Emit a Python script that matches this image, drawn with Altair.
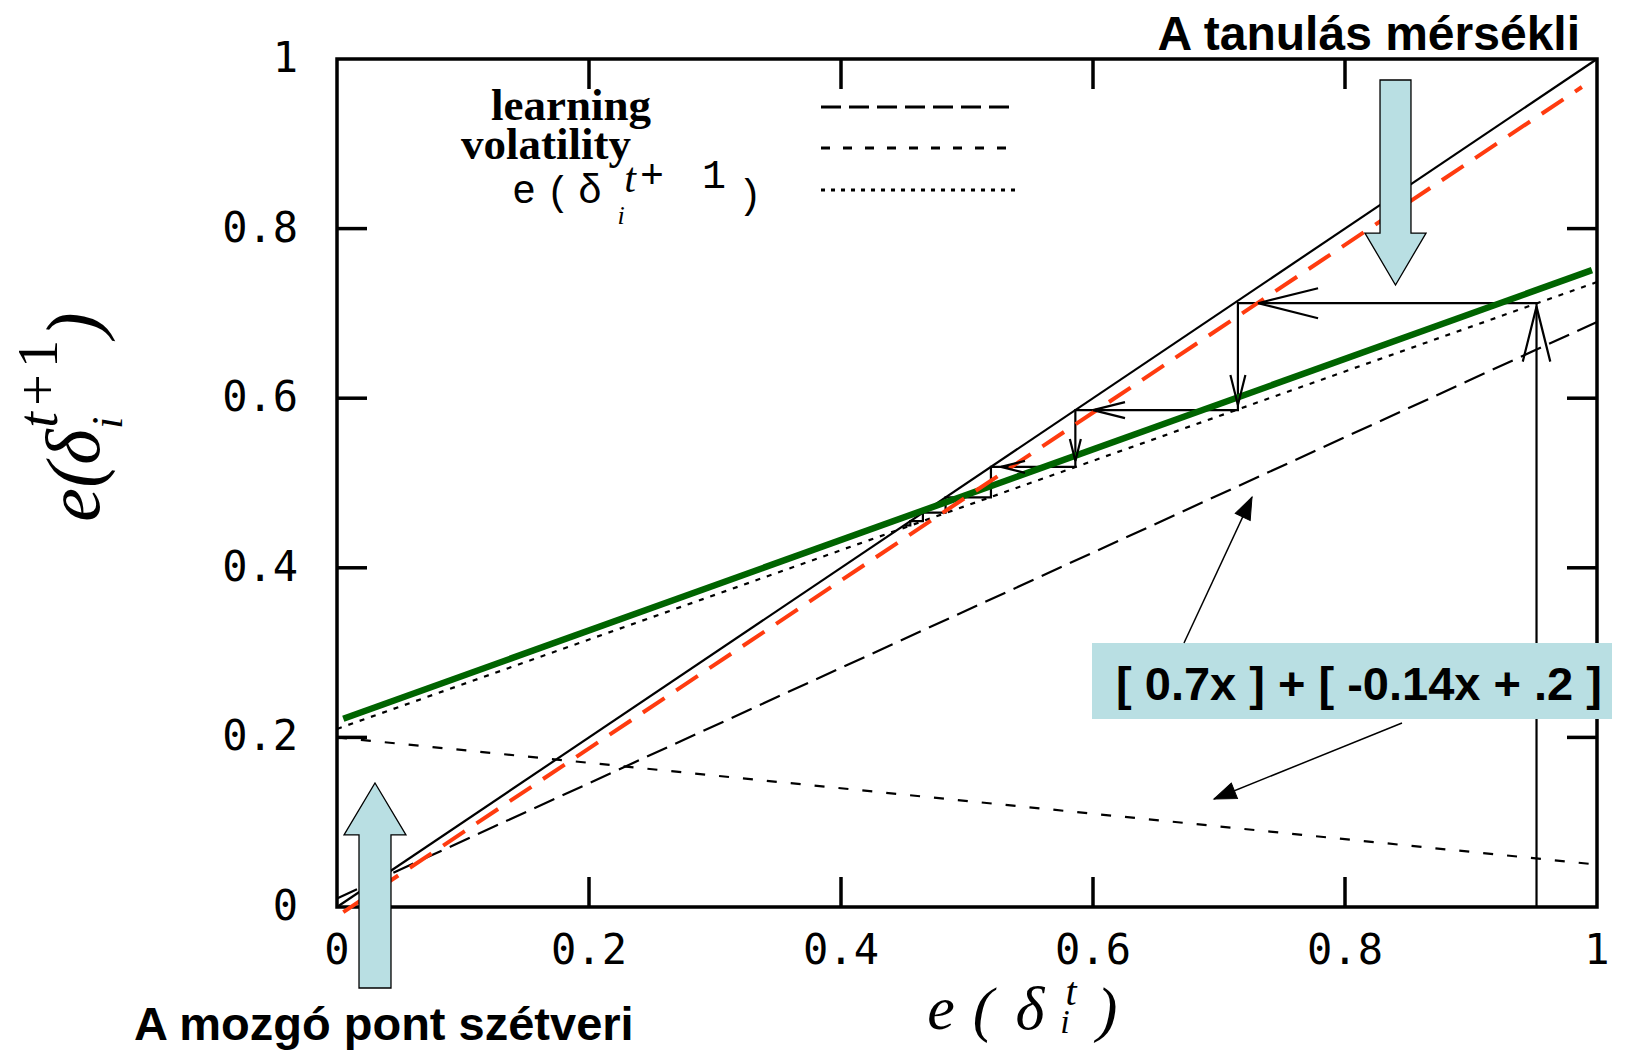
import math
import altair as alt
import pandas as pd

# ---------------- data ----------------
tick_values = [0, 0.2, 0.4, 0.6, 0.8, 1]
tick_labels = ["0", "0.2", "0.4", "0.6", "0.8", "1"]
inner_ticks = [0.2, 0.4, 0.6, 0.8]

line_x = [0.0, 1.0]
diag_y = [0.0, 1.0]
learning_y = [0.01, 0.69]
volatility_y = [0.20, 0.05]
sum_y = [0.21, 0.737]
green_x = [0.005, 0.996]
green_y = [0.222, 0.751]
red_x = [0.005, 0.988]
red_y = [-0.006, 0.967]

cob_x = [0.952, 0.952, 0.715, 0.715, 0.586, 0.586, 0.519, 0.519, 0.483, 0.483, 0.465, 0.465, 0.455, 0.455, 0.450]
cob_y = [0.0, 0.712, 0.712, 0.586, 0.586, 0.519, 0.519, 0.483, 0.483, 0.465, 0.465, 0.455, 0.455, 0.450, 0.450]

head_x = [0.952, 0.731, 0.715, 0.600, 0.586, 0.527]
head_y = [0.708, 0.712, 0.592, 0.586, 0.526, 0.519]
head_angle = [270, 180, 90, 180, 90, 180]
head_len = [55, 60, 30, 32, 22, 24]

legend_labels = ["learning", "volatility"]
box_text = "[ 0.7x ] + [ -0.14x + .2 ]"
top_text = "A tanulás mérsékli"
bottom_text = "A mozgó pont szétveri"

# ---------------- layout ----------------
W, H = 1260, 848
OX, OY = 337, 59  # page position of plot origin


def px(x):
    return x - OX


def py(y):
    return y - OY


XS = alt.Scale(domain=[0, 1], nice=False, zero=False)
YS = alt.Scale(domain=[0, 1], nice=False, zero=False)
X0 = alt.X("x:Q", scale=XS, axis=None)
Y0 = alt.Y("y:Q", scale=YS, axis=None)


def line(xs, ys, **mark):
    df = pd.DataFrame({"x": xs, "y": ys, "o": list(range(len(xs)))})
    return alt.Chart(df).mark_line(**mark).encode(x=X0, y=Y0, order="o:Q")


def txt(s, x, y, **kw):
    kw.setdefault("baseline", "alphabetic")
    kw.setdefault("color", "black")
    return alt.Chart(pd.DataFrame({"t": [s]})).mark_text(**kw).encode(
        x=alt.value(px(x)), y=alt.value(py(y)), text="t:N")


layers = []

# main curves
layers.append(line(line_x, diag_y, color="black", strokeWidth=2.2))
layers.append(line(line_x, volatility_y, color="black", strokeWidth=2.2, strokeDash=[10, 14]))
layers.append(line(line_x, learning_y, color="black", strokeWidth=2.2, strokeDash=[22, 9]))
layers.append(line(line_x, sum_y, color="black", strokeWidth=2.2, strokeDash=[5, 7]))
layers.append(line(cob_x, cob_y, color="black", strokeWidth=2.2))
layers.append(line(green_x, green_y, color="#006400", strokeWidth=6.5))
layers.append(line(red_x, red_y, color="#ff3b0f", strokeWidth=4, strokeDash=[26, 14]))

# cobweb arrowheads
hd = pd.DataFrame({"x": head_x, "y": head_y, "a": head_angle, "s": [l * l for l in head_len]})
layers.append(alt.Chart(hd).mark_point(
    shape="M-2,-0.5L0,0L-2,0.5", filled=False, stroke="black", strokeWidth=2.2, opacity=1
).encode(x=X0, y=Y0, angle=alt.Angle("a:Q", scale=None), size=alt.Size("s:Q", scale=None)))

# inward ticks on four sides
tk = pd.DataFrame({"v": inner_ticks})
TL = 30
XT = alt.X("v:Q", scale=XS, axis=None)
YT = alt.Y("v:Q", scale=YS, axis=None)
layers.append(alt.Chart(tk).mark_rule(color="black", strokeWidth=3.5).encode(
    x=XT, y=alt.value(H), y2=alt.value(H - TL)))
layers.append(alt.Chart(tk).mark_rule(color="black", strokeWidth=3.5).encode(
    x=XT, y=alt.value(0), y2=alt.value(TL)))
layers.append(alt.Chart(tk).mark_rule(color="black", strokeWidth=3.5).encode(
    y=YT, x=alt.value(0), x2=alt.value(TL)))
layers.append(alt.Chart(tk).mark_rule(color="black", strokeWidth=3.5).encode(
    y=YT, x=alt.value(W), x2=alt.value(W - TL)))

# tick labels
tl = pd.DataFrame({"v": tick_values, "t": tick_labels})
TICKF = dict(font="DejaVu Sans Mono", fontSize=42, color="black")
layers.append(alt.Chart(tl).mark_text(align="center", baseline="alphabetic", **TICKF).encode(
    x=XT, y=alt.value(py(964)), text="t:N"))
layers.append(alt.Chart(tl).mark_text(align="right", baseline="middle", **TICKF).encode(
    y=YT, x=alt.value(px(298)), text="t:N"))

# legend
leg_y = [107, 148, 190]
leg_dash = [[20, 8], [9, 13], [4, 6]]
for yy, dash in zip(leg_y, leg_dash):
    layers.append(alt.Chart(pd.DataFrame({"d": [0]})).mark_rule(
        color="black", strokeWidth=3, strokeDash=dash).encode(
        x=alt.value(px(821)), x2=alt.value(px(1016)), y=alt.value(py(yy))))
LEGF = dict(font="Liberation Serif", fontWeight="bold", fontSize=45, align="center")
layers.append(txt(legend_labels[0], 571, 120, **LEGF))
layers.append(txt(legend_labels[1], 546, 159, **LEGF))
MONO = dict(font="Liberation Mono", fontSize=40, align="center")
layers.append(txt("e", 524, 203, **MONO))
layers.append(txt("(", 558, 205, **MONO))
layers.append(txt("δ", 590, 203, **MONO))
layers.append(txt(")", 750, 208, **MONO))
layers.append(txt("t", 630, 192, font="Liberation Serif", fontStyle="italic", fontSize=42, align="center"))
layers.append(txt("+", 652, 188, **MONO))
layers.append(txt("1", 714, 188, **MONO))
layers.append(txt("i", 621, 224, font="Liberation Serif", fontStyle="italic", fontSize=26, align="center"))

# x-axis title  e(δ_i^t)
SER = dict(font="Liberation Serif", fontStyle="italic", align="center")
layers.append(txt("e", 941, 1029, fontSize=62, **SER))
layers.append(txt("(", 983, 1030, fontSize=62, **SER))
layers.append(txt("δ", 1030, 1029, fontSize=62, **SER))
layers.append(txt("t", 1071, 1005, fontSize=40, **SER))
layers.append(txt("i", 1065, 1033, fontSize=34, **SER))
layers.append(txt(")", 1107, 1030, fontSize=62, **SER))

# y-axis title  e(δ_i^{t+1}) rotated
ROT = dict(font="Liberation Serif", fontStyle="italic", align="center", angle=270)
layers.append(txt("e", 99, 505, fontSize=76, **ROT))
layers.append(txt("(", 99, 475, fontSize=76, **ROT))
layers.append(txt("δ", 99, 447, fontSize=76, **ROT))
layers.append(txt("t", 57, 420, fontSize=56, **ROT))
layers.append(txt("+", 57, 390, fontSize=56, font="Liberation Serif", align="center", angle=270))
layers.append(txt("1", 57, 354, fontSize=56, font="Liberation Serif", align="center", angle=270))
layers.append(txt("i", 122, 423, fontSize=44, **ROT))
layers.append(txt(")", 99, 325, fontSize=76, **ROT))

# formula box
layers.append(alt.Chart(pd.DataFrame({"d": [0]})).mark_rect(color="#b9dfe3").encode(
    x=alt.value(px(1092)), x2=alt.value(px(1612)), y=alt.value(py(643)), y2=alt.value(py(719))))
BOLD = dict(font="Liberation Sans", fontWeight="bold")
layers.append(txt(box_text, 1359, 700, fontSize=47, align="center", **BOLD))

# thin annotation arrows from the box
ann = [((1184, 643), (1252, 497)), ((1402, 723), (1214, 799))]
for (sx, sy), (tx, ty) in ann:
    layers.append(alt.Chart(pd.DataFrame({"d": [0]})).mark_rule(color="black", strokeWidth=1.5).encode(
        x=alt.value(px(sx)), x2=alt.value(px(tx)), y=alt.value(py(sy)), y2=alt.value(py(ty))))
    ang = math.degrees(math.atan2(ty - sy, tx - sx)) % 360
    layers.append(alt.Chart(pd.DataFrame({"d": [0]})).mark_point(
        shape="M0,0L-2,-0.75L-2,0.75Z", filled=True, fill="black", stroke="black", strokeWidth=1,
        opacity=1, size=484, angle=ang).encode(x=alt.value(px(tx)), y=alt.value(py(ty))))

# big light-blue block arrows
down_path = "M-0.151,-1L0.151,-1L0.151,0.493L0.298,0.493L0,1L-0.298,0.493L-0.151,0.493Z"
up_path = "M0,-1L0.302,-0.493L0.156,-0.493L0.156,1L-0.156,1L-0.156,-0.493L-0.302,-0.493Z"
for path, (cx, cy) in [(down_path, (1395.5, 182.5)), (up_path, (375, 885.5))]:
    layers.append(alt.Chart(pd.DataFrame({"d": [0]})).mark_point(
        shape=path, filled=True, fill="#b9dfe3", stroke="black", strokeWidth=1.3, opacity=1,
        size=205 * 205).encode(x=alt.value(px(cx)), y=alt.value(py(cy))))

# headline texts
layers.append(txt(top_text, 1580, 50, fontSize=48, align="right", **BOLD))
layers.append(txt(bottom_text, 134, 1040, fontSize=47, align="left", **BOLD))

chart = alt.layer(*layers).properties(
    width=W, height=H,
    autosize=alt.AutoSizeParams(type="none"),
    padding={"left": OX - 8, "top": OY - 8, "right": 22, "bottom": 144},
    background="white",
).configure_view(stroke="black", strokeWidth=3.5)

chart.save("out.html", embed_options={"renderer": "svg", "actions": False})
